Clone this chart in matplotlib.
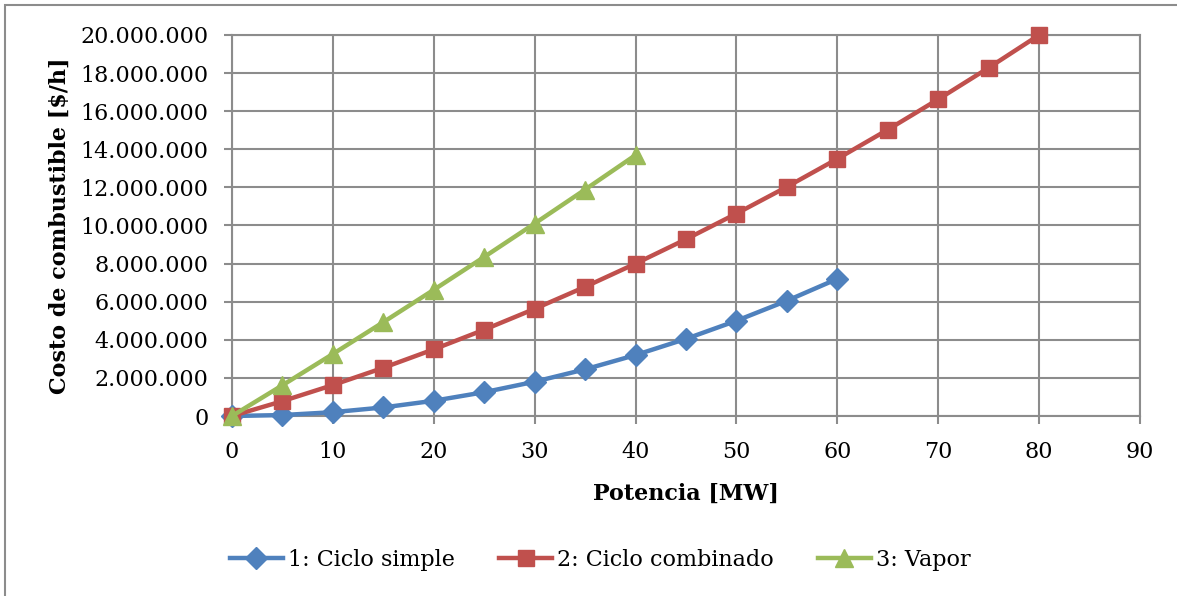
import matplotlib.pyplot as plt
import numpy as np
from matplotlib.ticker import FuncFormatter, MultipleLocator
from matplotlib.patches import Rectangle

# Potencia [MW] y costo de combustible [$/h] por tipo de central
p_simple = [0, 5, 10, 15, 20, 25, 30, 35, 40, 45, 50, 55, 60]
c_simple = [0, 50000, 200000, 450000, 800000, 1250000, 1800000, 2450000,
            3200000, 4050000, 5000000, 6050000, 7200000]

p_comb = [0, 5, 10, 15, 20, 25, 30, 35, 40, 45, 50, 55, 60, 65, 70, 75, 80]
c_comb = [0, 780000, 1625000, 2530000, 3500000, 4530000, 5625000, 6780000,
          8000000, 9280000, 10625000, 12030000, 13500000, 15030000,
          16625000, 18280000, 20000000]

p_vapor = [0, 5, 10, 15, 20, 25, 30, 35, 40]
c_vapor = [0, 1614000, 3256000, 4926000, 6624000, 8350000, 10104000,
           11886000, 13696000]

series = [
    ('1: Ciclo simple', p_simple, c_simple, '#4F81BD', 'D', 11),
    ('2: Ciclo combinado', p_comb, c_comb, '#C0504D', 's', 11),
    ('3: Vapor', p_vapor, c_vapor, '#9BBB59', '^', 13),
]

plt.rcParams['font.family'] = ['DejaVu Serif']

fig = plt.figure(figsize=(11.77, 5.96), dpi=100)
ax = fig.add_axes([0.1971, 0.302, 0.7715, 0.6393])

# borde del area del grafico
fig.patches.append(Rectangle((5 / 1177, -0.1), 1.2, 1.1 - 5 / 596,
                             transform=fig.transFigure, fill=False,
                             edgecolor='#8C8C8C', linewidth=1.5))

for nombre, x, y, color, mk, ms in series:
    ax.plot(x, y, color=color, linewidth=3.2, marker=mk, markersize=ms,
            markeredgecolor=color, label=nombre, clip_on=False, zorder=3)

ax.set_xlim(0, 90)
ax.set_ylim(0, 20000000)
ax.xaxis.set_major_locator(MultipleLocator(10))
ax.yaxis.set_major_locator(MultipleLocator(2000000))
ax.yaxis.set_major_formatter(FuncFormatter(lambda v, pos: f'{int(v):,}'.replace(',', '.')))

ax.grid(True, color='#8C8C8C', linewidth=1.5)
ax.set_axisbelow(True)
for s in ax.spines.values():
    s.set_color('#8C8C8C')
    s.set_linewidth(1.5)
ax.tick_params(colors='#8C8C8C', labelcolor='black', labelsize=16,
               length=6, width=1.5)
ax.tick_params(axis='x', pad=12)
ax.tick_params(axis='y', pad=11)

ax.set_xlabel('Potencia [MW]', fontsize=16, fontweight='bold', labelpad=14)
ax.set_ylabel('Costo de combustible [$/h]', fontsize=16, fontweight='bold', labelpad=7)

ax.legend(loc='center', bbox_to_anchor=(600 / 1177, 36 / 596),
          bbox_transform=fig.transFigure, ncol=3, frameon=False,
          fontsize=16, handlelength=2.4, columnspacing=2.0, handletextpad=0.2)

fig.savefig('out.png', dpi=100)
